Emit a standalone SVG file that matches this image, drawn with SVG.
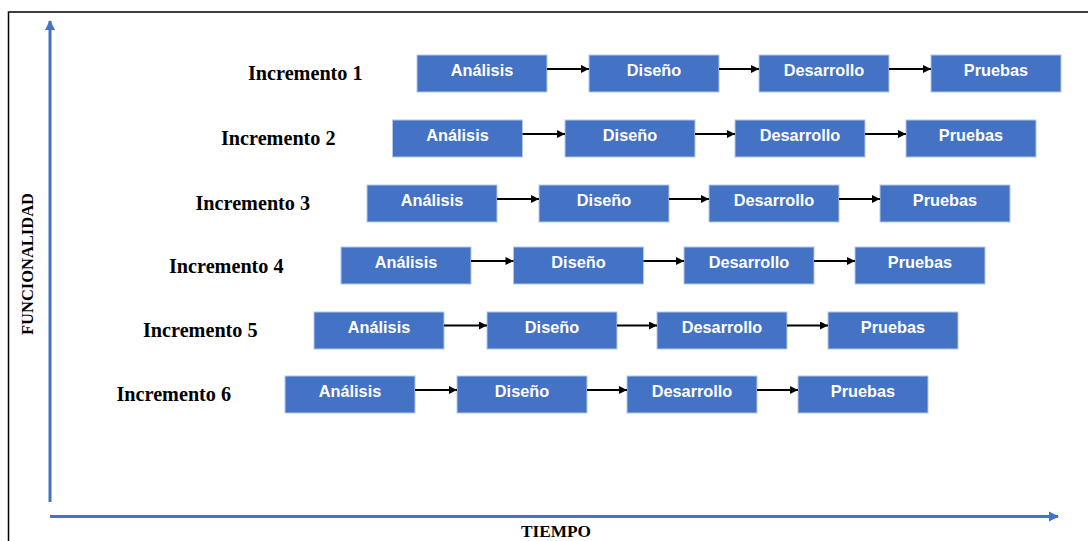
<svg xmlns="http://www.w3.org/2000/svg" width="1088" height="541" viewBox="0 0 1088 541">
<style>
.box{fill:#4472C4;stroke:#B4C7E7;stroke-width:1}
.bt{font-family:"Liberation Sans",Arial,sans-serif;font-weight:bold;font-size:16.3px;fill:#FFFFFF;text-anchor:middle}
.lbl{font-family:"Liberation Serif","Times New Roman",serif;font-weight:bold;font-size:20.2px;fill:#000}
.ax{font-family:"Liberation Serif","Times New Roman",serif;font-weight:bold;fill:#000}
.conn{stroke:#000;stroke-width:2;fill:none;marker-end:url(#ah)}
.axis{stroke:#4472C4;stroke-width:3;fill:none}
</style>
<defs>
<marker id="ah" viewBox="0 0 10 10" refX="10" refY="5" markerWidth="4.5" markerHeight="4" orient="auto" markerUnits="strokeWidth">
<path d="M0,0 L10,5 L0,10 Z" fill="#000"/>
</marker>
<marker id="bh" viewBox="0 0 10 10" refX="9" refY="5" markerWidth="3.6" markerHeight="3.4" orient="auto" markerUnits="strokeWidth">
<path d="M0,0 L10,5 L0,10 Z" fill="#4472C4"/>
</marker>
</defs>
<rect width="1088" height="541" fill="#fff"/>
<path d="M8.5,541 V12 H1088" fill="none" stroke="#000" stroke-width="1.5"/>
<g id="axes">
<path class="axis" d="M50,502 V21" marker-end="url(#bh)"/>
<path class="axis" d="M50,516.5 H1058" marker-end="url(#bh)"/>
<text class="ax" x="556" y="537" font-size="17" text-anchor="middle" textLength="70" lengthAdjust="spacingAndGlyphs">TIEMPO</text>
<text class="ax" font-size="16" text-anchor="middle" transform="translate(33,264) rotate(-90)" textLength="142" lengthAdjust="spacingAndGlyphs">FUNCIONALIDAD</text>
</g>
<g id="inc1">
<text class="lbl" x="248" y="80">Incremento 1</text>
<rect class="box" x="417" y="55" width="130" height="37"/><text class="bt" x="482" y="75.5">Análisis</text>
<rect class="box" x="589" y="55" width="130" height="37"/><text class="bt" x="654" y="75.5">Diseño</text>
<rect class="box" x="759" y="55" width="130" height="37"/><text class="bt" x="824" y="75.5">Desarrollo</text>
<rect class="box" x="931" y="55" width="130" height="37"/><text class="bt" x="996" y="75.5">Pruebas</text>
</g>
<g id="inc2">
<text class="lbl" x="221" y="145">Incremento 2</text>
<rect class="box" x="392.5" y="120" width="130" height="37"/><text class="bt" x="457.5" y="140.5">Análisis</text>
<rect class="box" x="565" y="120" width="130" height="37"/><text class="bt" x="630" y="140.5">Diseño</text>
<rect class="box" x="735" y="120" width="130" height="37"/><text class="bt" x="800" y="140.5">Desarrollo</text>
<rect class="box" x="906" y="120" width="130" height="37"/><text class="bt" x="971" y="140.5">Pruebas</text>
</g>
<g id="inc3">
<text class="lbl" x="195.5" y="210">Incremento 3</text>
<rect class="box" x="367" y="185" width="130" height="37"/><text class="bt" x="432" y="205.5">Análisis</text>
<rect class="box" x="539" y="185" width="130" height="37"/><text class="bt" x="604" y="205.5">Diseño</text>
<rect class="box" x="709" y="185" width="130" height="37"/><text class="bt" x="774" y="205.5">Desarrollo</text>
<rect class="box" x="880" y="185" width="130" height="37"/><text class="bt" x="945" y="205.5">Pruebas</text>
</g>
<g id="inc4">
<text class="lbl" x="169" y="272.5">Incremento 4</text>
<rect class="box" x="341" y="247" width="130" height="37"/><text class="bt" x="406" y="267.5">Análisis</text>
<rect class="box" x="513.5" y="247" width="130" height="37"/><text class="bt" x="578.5" y="267.5">Diseño</text>
<rect class="box" x="684" y="247" width="130" height="37"/><text class="bt" x="749" y="267.5">Desarrollo</text>
<rect class="box" x="855" y="247" width="130" height="37"/><text class="bt" x="920" y="267.5">Pruebas</text>
</g>
<g id="inc5">
<text class="lbl" x="143" y="336.5">Incremento 5</text>
<rect class="box" x="314" y="312" width="130" height="37"/><text class="bt" x="379" y="332.5">Análisis</text>
<rect class="box" x="487" y="312" width="130" height="37"/><text class="bt" x="552" y="332.5">Diseño</text>
<rect class="box" x="657" y="312" width="130" height="37"/><text class="bt" x="722" y="332.5">Desarrollo</text>
<rect class="box" x="828" y="312" width="130" height="37"/><text class="bt" x="893" y="332.5">Pruebas</text>
</g>
<g id="inc6">
<text class="lbl" x="116.5" y="400.5">Incremento 6</text>
<rect class="box" x="285" y="376" width="130" height="37"/><text class="bt" x="350" y="396.5">Análisis</text>
<rect class="box" x="457" y="376" width="130" height="37"/><text class="bt" x="522" y="396.5">Diseño</text>
<rect class="box" x="627" y="376" width="130" height="37"/><text class="bt" x="692" y="396.5">Desarrollo</text>
<rect class="box" x="798" y="376" width="130" height="37"/><text class="bt" x="863" y="396.5">Pruebas</text>
</g>
<g id="connectors">
<path class="conn" d="M547,69 H589"/><path class="conn" d="M719,69 H759"/><path class="conn" d="M889,69 H931"/>
<path class="conn" d="M522.5,134 H565"/><path class="conn" d="M695,134 H735"/><path class="conn" d="M865,134 H906"/>
<path class="conn" d="M497,199 H539"/><path class="conn" d="M669,199 H709"/><path class="conn" d="M839,199 H880"/>
<path class="conn" d="M471,261 H513.5"/><path class="conn" d="M643.5,261 H684"/><path class="conn" d="M814,261 H855"/>
<path class="conn" d="M444,325.5 H487"/><path class="conn" d="M617,325.5 H657"/><path class="conn" d="M787,325.5 H828"/>
<path class="conn" d="M415,390 H457"/><path class="conn" d="M587,390 H627"/><path class="conn" d="M757,390 H798"/>
</g>
</svg>
